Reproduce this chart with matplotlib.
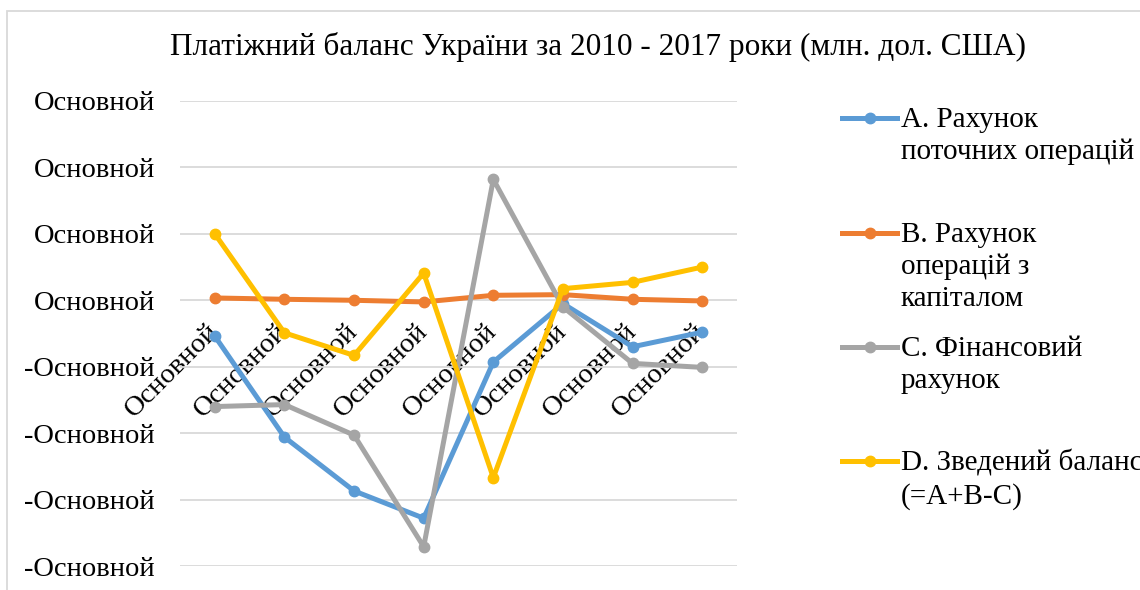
import matplotlib.pyplot as plt
from matplotlib.lines import Line2D
from matplotlib.patches import Rectangle
from matplotlib.ticker import FuncFormatter

plt.rcParams['font.family'] = ['Liberation Serif', 'DejaVu Serif']

# Платіжний баланс України, млн. дол. США
years = ['2010', '2011', '2012', '2013', '2014', '2015', '2016', '2017']
current_acc = [-2700, -10300, -14350, -16400, -4650, -250, -3500, -2400]
capital_acc = [175, 75, 0, -125, 375, 425, 75, -50]
financial_acc = [-8000, -7850, -10150, -18550, 9100, -500, -4750, -5050]
overall_bal = [5000, -2450, -4150, 2050, -13350, 875, 1350, 2500]

series_names = ['А. Рахунок\nпоточних операцій',
                'В. Рахунок\nоперацій з\nкапіталом',
                'С. Фінансовий\nрахунок',
                'D. Зведений баланс\n(=А+В-С)']
colors = ['#5B9BD5', '#ED7D31', '#A5A5A5', '#FFC000']
series = [current_acc, capital_acc, financial_acc, overall_bal]

W, H = 1140, 590
fig = plt.figure(figsize=(W / 100, H / 100), dpi=100)
ax = fig.add_axes([180 / W, 1 - 566 / H, 557 / W, 465 / H])

# category axis crosses at zero, like in Excel
ax.spines['bottom'].set_position(('data', 0))
for s in ax.spines.values():
    s.set_visible(False)

x = list(range(len(years)))
for vals, col in zip(series, colors):
    ax.plot(x, vals, color=col, lw=3.6, marker='o', ms=7.5, zorder=3)

ax.set_xlim(-0.5, 7.5)
ax.set_ylim(-20000, 15000)
ax.set_yticks(range(-20000, 15001, 5000))
ax.yaxis.set_major_formatter(FuncFormatter(lambda v, p: '-Основной' if v < 0 else 'Основной'))
ax.grid(axis='y', color='#D9D9D9', lw=1.3)
ax.set_axisbelow(True)

ax.set_xticks(x)
ax.set_xticklabels(['Основной'] * len(years))
ax.tick_params(axis='x', length=0, pad=20, labelsize=20.5, labelrotation=45)
ax.tick_params(axis='y', length=0, pad=18, labelsize=20.5)
for lbl in ax.get_xticklabels():
    lbl.set_ha('right')
    lbl.set_va('center')
    lbl.set_rotation_mode('anchor')

fig.text(598 / W, 1 - 47 / H, 'Платіжний баланс України за 2010 - 2017 роки (млн. дол. США)',
         ha='center', va='center', fontsize=22.5)

# легенда праворуч
legend_y = [118, 233, 347, 461]
for name, col, yy in zip(series_names, colors, legend_y):
    fy = 1 - yy / H
    fig.add_artist(Line2D([842 / W, 897 / W], [fy, fy], color=col, lw=3.6,
                          transform=fig.transFigure))
    fig.add_artist(Line2D([869.5 / W], [fy], color=col, marker='o', ms=7.5,
                          transform=fig.transFigure))
    fig.text(901 / W, fy + 11 / H, name, ha='left', va='top', fontsize=21,
             linespacing=1.28)

fig.add_artist(Rectangle((7 / W, -0.1), 1.2, 1 - 11 / H + 0.1, fill=False,
                         ec='#D9D9D9', lw=1.3, transform=fig.transFigure))

fig.savefig('out.png', dpi=100)
